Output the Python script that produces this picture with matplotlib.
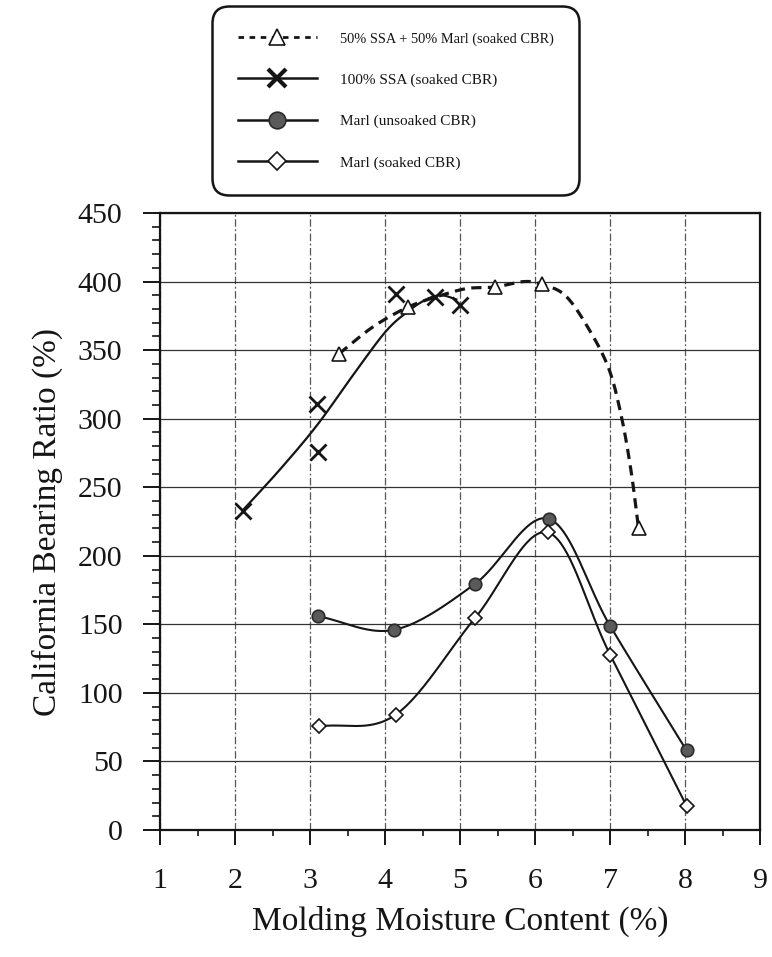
import matplotlib.pyplot as plt
import numpy as np
from matplotlib.lines import Line2D

plt.rcParams['font.family'] = ['Liberation Serif', 'DejaVu Serif']

# 50% SSA + 50% Marl (soaked CBR)
mix_x = [3.39, 4.31, 5.46, 6.09, 7.38]
mix_y = [347.5, 381.5, 396, 398, 220]
# trend curve drawn through the mix points
mix_fit_x = [3.39, 3.84, 4.31, 4.75, 5.1, 5.46, 5.85, 6.09, 6.4, 6.7, 6.98, 7.15, 7.28, 7.38]
mix_fit_y = [347.5, 367, 381.5, 390, 395, 396, 400, 398, 390, 367, 337, 302, 262, 220]

# 100% SSA (soaked CBR)
ssa_x = [2.1, 3.09, 3.1, 4.15, 4.67, 5.0]
ssa_y = [233, 311, 275.5, 391, 389, 383]
ssa_fit_x = [2.1, 2.6, 3.09, 3.55, 4.0, 4.3, 4.55, 4.75, 4.95]
ssa_fit_y = [233, 263, 295, 330, 363, 378, 387, 390, 387]

# Marl (unsoaked CBR)
unsoaked_x = [3.1, 4.12, 5.2, 6.18, 7.0, 8.02]
unsoaked_y = [156, 146, 179.5, 227, 149, 58]

# Marl (soaked CBR)
soaked_x = [3.12, 4.14, 5.2, 6.17, 7.0, 8.02]
soaked_y = [75.5, 84, 154.6, 217, 128, 17.6]

labels = ['50% SSA + 50% Marl (soaked CBR)', '100% SSA (soaked CBR)',
          'Marl (unsoaked CBR)', 'Marl (soaked CBR)']


def smooth(xs, ys, n=40):
    # Catmull-Rom curve through the points (Excel style smoothed line)
    p = np.column_stack([xs, ys]).astype(float)
    ext = np.vstack([2 * p[0] - p[1], p, 2 * p[-1] - p[-2]])
    t = np.linspace(0, 1, n)[:, None]
    h00 = 2 * t**3 - 3 * t**2 + 1
    h10 = t**3 - 2 * t**2 + t
    h01 = -2 * t**3 + 3 * t**2
    h11 = t**3 - t**2
    parts = []
    for i in range(1, len(ext) - 2):
        p0, p1, p2, p3 = ext[i - 1], ext[i], ext[i + 1], ext[i + 2]
        m1 = (p2 - p0) / 2
        m2 = (p3 - p1) / 2
        parts.append(h00 * p1 + h10 * m1 + h01 * p2 + h11 * m2)
    c = np.vstack(parts)
    return c[:, 0], c[:, 1]


ink = '#151515'
fig = plt.figure(figsize=(7.72, 9.57), dpi=100)
ax = fig.add_axes([0.2073, 0.1327, 0.7772, 0.6447])

dash = (0, (3.2, 2.0))

cx, cy = smooth(mix_fit_x, mix_fit_y)
ax.plot(cx, cy, color=ink, lw=2.3, ls=dash, zorder=3)
ax.plot(mix_x, mix_y, ls='none', marker='^', ms=10, mfc='white', mec=ink, mew=1.2, zorder=5)

cx, cy = smooth(ssa_fit_x, ssa_fit_y)
ax.plot(cx, cy, color=ink, lw=1.6, zorder=3)
ax.plot(ssa_x, ssa_y, ls='none', marker='x', ms=11, mec=ink, mew=2.0, zorder=5)

cx, cy = smooth(unsoaked_x, unsoaked_y)
ax.plot(cx, cy, color=ink, lw=1.5, zorder=3)
ax.plot(unsoaked_x, unsoaked_y, ls='none', marker='o', ms=9, mfc='#5a5a5a', mec='#2a2a2a', mew=1.2, zorder=5)

cx, cy = smooth(soaked_x, soaked_y)
ax.plot(cx, cy, color=ink, lw=1.5, zorder=3)
ax.plot(soaked_x, soaked_y, ls='none', marker='D', ms=7, mfc='white', mec=ink, mew=1.2, zorder=5)

ax.set_xlim(1, 9)
ax.set_ylim(0, 450)
ax.set_xticks(np.arange(1, 10))
ax.set_xticks(np.arange(1, 9.01, 0.5), minor=True)
ax.set_yticks(np.arange(0, 451, 50))
ax.set_yticks(np.arange(0, 451, 10), minor=True)

ax.grid(axis='y', which='major', color='#333333', lw=0.9, ls='-')
ax.grid(axis='x', which='major', color='#555555', lw=0.9, ls=(0, (6, 2, 1.5, 2)))
ax.set_axisbelow(True)

for s in ax.spines.values():
    s.set_linewidth(1.6)
    s.set_color(ink)

ax.tick_params(axis='both', which='major', direction='out', width=1.4, colors=ink, labelsize=21.5)
ax.tick_params(axis='y', which='major', length=12, pad=15)
ax.tick_params(axis='x', which='major', length=11, pad=16)
ax.tick_params(axis='y', which='minor', direction='out', length=6, width=1.2, colors=ink)
ax.tick_params(axis='x', which='minor', direction='out', length=4, width=1.2, colors=ink)

ax.set_xlabel('Molding Moisture Content (%)', fontsize=24, color=ink, labelpad=9)
ax.set_ylabel('California Bearing Ratio (%)', fontsize=24, color=ink, labelpad=11)

handles = [
    Line2D([], [], color=ink, lw=2.0, ls=(0, (2.0, 2.0)), marker='^', ms=12, mfc='white', mec=ink, mew=1.2),
    Line2D([], [], color=ink, lw=1.8, marker='x', ms=13, mec=ink, mew=3.0),
    Line2D([], [], color=ink, lw=1.8, marker='o', ms=12, mfc='#5a5a5a', mec='#2a2a2a', mew=1.2),
    Line2D([], [], color=ink, lw=1.8, marker='D', ms=9, mfc='white', mec=ink, mew=1.2),
]
leg = ax.legend(handles, labels, loc='upper left', bbox_to_anchor=(214 / 772, 1 - 8 / 957),
                bbox_transform=fig.transFigure, borderaxespad=0, fontsize=11,
                handlelength=5.2, handletextpad=1.5, labelspacing=1.8, borderpad=1.55,
                fancybox=True, framealpha=1, edgecolor=ink)
leg.get_frame().set_linewidth(1.8)
leg.get_frame().set_boxstyle('round', pad=0.1, rounding_size=1.1)
for t in leg.get_texts():
    t.set_color(ink)
leg.get_texts()[0].set_fontsize(10.4)

fig.savefig('out.png', dpi=100)
